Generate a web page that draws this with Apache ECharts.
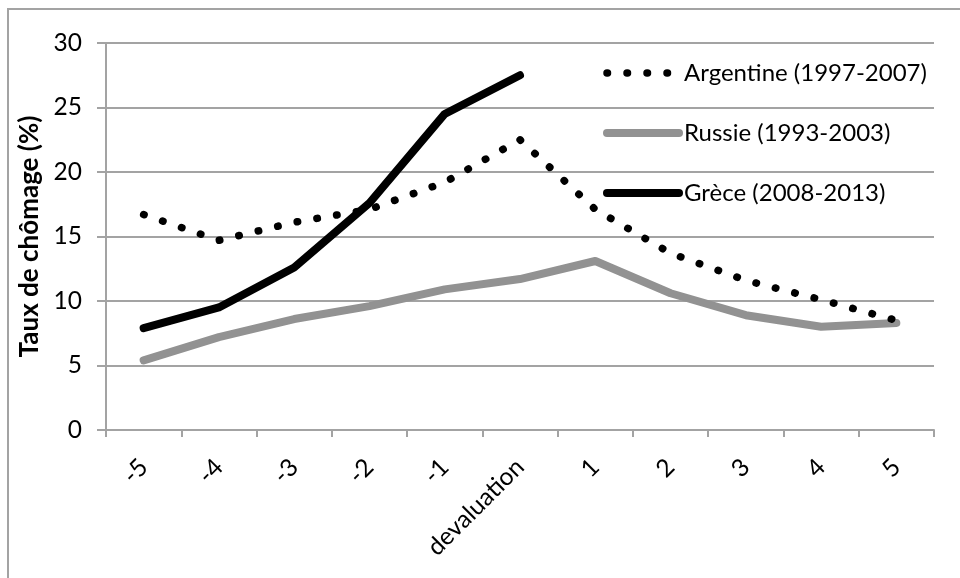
<!DOCTYPE html>
<html>
<head>
<meta charset="utf-8">
<script src="https://cdn.jsdelivr.net/npm/echarts@6/dist/echarts.min.js"></script>
<style>
html,body{margin:0;padding:0;background:#fff;}
#chart{width:960px;height:578px;}
</style>
</head>
<body>
<div id="chart"></div>
<script>
var categories = ['-5', '-4', '-3', '-2', '-1', 'devaluation', '1', '2', '3', '4', '5'];
var argentine = [16.7, 14.7, 16.1, 17.1, 19.2, 22.5, 17.1, 13.7, 11.6, 10.1, 8.5];
var russie = [5.4, 7.2, 8.6, 9.6, 10.9, 11.7, 13.1, 10.6, 8.9, 8.0, 8.3];
var grece = [7.9, 9.5, 12.6, 17.6, 24.5, 27.5, null, null, null, null, null];
var seriesNames = ['Argentine (1997-2007)', 'Russie (1993-2003)', 'Grèce (2008-2013)'];
var yTitle = 'Taux de chômage (%)';

var FONT = 'Lato';
var chart = echarts.init(document.getElementById('chart'), null, {renderer: 'canvas'});
chart.setOption({
  animation: false,
  backgroundColor: '#fff',
  textStyle: {fontFamily: FONT},
  graphic: [{
    type: 'polyline',
    shape: {points: [[8, 578], [8, 9], [960, 9]]},
    style: {stroke: '#a3a3a3', lineWidth: 2, fill: null}
  }],
  grid: {left: 106, right: 26, top: 43, bottom: 148, containLabel: false},
  legend: {
    orient: 'vertical',
    left: 598,
    top: 56,
    itemWidth: 72,
    itemHeight: 26,
    itemGap: 36,
    itemStyle: {opacity: 0},
    textStyle: {fontFamily: FONT, fontSize: 24, color: '#000'},
    lineStyle: {width: 'inherit'},
    data: seriesNames
  },
  xAxis: {
    type: 'category',
    data: categories,
    boundaryGap: true,
    axisLine: {lineStyle: {color: '#a3a3a3', width: 2}},
    axisTick: {show: true, length: 7, lineStyle: {color: '#a3a3a3', width: 2}},
    axisLabel: {rotate: 45, margin: 33, fontSize: 24.5, color: '#000', fontFamily: FONT, interval: 0}
  },
  yAxis: {
    type: 'value',
    min: 0, max: 30, interval: 5,
    name: yTitle,
    nameLocation: 'middle',
    nameRotate: 90,
    nameGap: 60,
    nameTextStyle: {fontFamily: FONT, fontSize: 26, fontWeight: 'bold', color: '#000'},
    axisLine: {show: true, lineStyle: {color: '#a3a3a3', width: 2}},
    axisTick: {show: true, length: 9, lineStyle: {color: '#a3a3a3', width: 2}},
    axisLabel: {margin: 24, fontSize: 24.5, color: '#000', fontFamily: FONT},
    splitLine: {lineStyle: {color: '#a3a3a3', width: 2}}
  },
  series: [
    {
      name: seriesNames[0], type: 'line', data: argentine, symbol: 'none',
      lineStyle: {color: '#000', width: 7.5, type: [0.5, 19.5], cap: 'round', join: 'round'},
      itemStyle: {color: '#000'}, z: 4
    },
    {
      name: seriesNames[1], type: 'line', data: russie, symbol: 'none',
      lineStyle: {color: '#929292', width: 8, cap: 'round', join: 'round'},
      itemStyle: {color: '#929292'}, z: 2
    },
    {
      name: seriesNames[2], type: 'line', data: grece, symbol: 'none',
      lineStyle: {color: '#000', width: 8, cap: 'round', join: 'round'},
      itemStyle: {color: '#000'}, z: 3
    }
  ]
});
</script>
</body>
</html>
